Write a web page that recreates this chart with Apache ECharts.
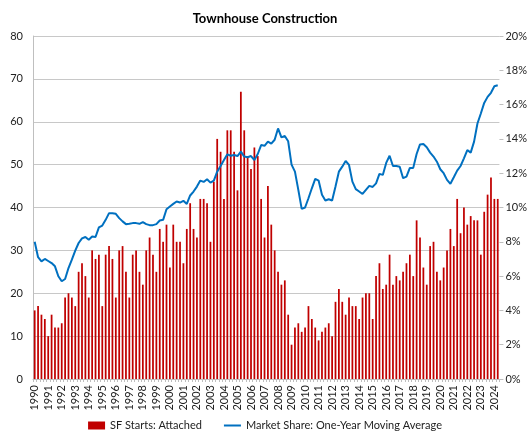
<!DOCTYPE html>
<html>
<head>
<meta charset="utf-8">
<script src="https://cdn.jsdelivr.net/npm/echarts@6/dist/echarts.min.js"></script>
<style>
html,body{margin:0;padding:0;background:#fff;}
#chart{width:530px;height:442px;}
</style>
</head>
<body>
<div id="chart"></div>
<script>
// Years shown on the axis (one label per year, first quarter)
var years = ['1990','1991','1992','1993','1994','1995','1996','1997','1998','1999','2000','2001','2002','2003','2004','2005','2006','2007','2008','2009','2010','2011','2012','2013','2014','2015','2016','2017','2018','2019','2020','2021','2022','2023','2024'];
var quarters = ['Q1','Q2','Q3','Q4'];

// SF Starts: Attached (thousands, quarterly)
var sfStartsAttached = [
  16,17,15,14,10,15,12,12,13,19,20,19,17,25,27,24,19,30,28,29,17,29,31,28,19,30,31,25,19,29,30,25,22,30,33,29,25,
  35,32,36,26,36,32,32,27,35,41,35,33,42,42,41,32,46,56,53,42,58,58,53,44,67,58,52,49,54,52,42,33,45,36,30,25,
  22,23,15,8,12,13,11,12,17,14,12,9,11,12,13,10,18,21,18,15,19,17,17,14,19,20,20,14,24,27,21,22,29,22,24,
  23,25,27,29,24,37,33,26,22,31,32,25,23,26,30,35,31,42,34,40,36,38,37,37,29,39,43,47,42,42
];

// Market Share: One-Year Moving Average (%)
var marketShare = [
  8.0,7.1,6.86,7.0,6.88,6.76,6.57,5.99,5.7,5.83,6.47,6.96,7.48,7.93,8.2,8.28,8.12,8.31,8.28,8.84,8.95,9.28,9.67,9.67,9.63,9.38,9.19,9.03,9.05,9.09,9.09,9.05,9.15,9.03,8.97,8.97,9.03,
  9.24,9.28,9.9,10.06,10.21,10.35,10.29,10.39,10.21,10.7,10.93,11.22,11.57,11.49,11.65,11.45,11.57,12.09,12.42,12.77,13.1,13.02,13.06,
  13.0,13.26,12.97,12.93,13.0,12.77,13.12,13.64,13.6,13.84,13.72,13.95,14.61,14.09,14.17,13.86,12.5,12.09,11.03,9.92,
  10.0,10.54,11.12,11.67,11.57,10.74,10.41,10.48,10.41,11.22,12.09,12.38,12.71,12.48,11.51,11.07,10.93,10.79,11.03,11.26,11.2,11.41,11.96,11.9,12.6,13.02,12.42,12.42,
  12.38,11.71,11.8,12.31,12.31,13.12,13.68,13.7,13.51,13.2,12.97,12.67,12.23,12.0,11.61,11.38,11.76,12.15,12.42,12.87,13.35,13.2,13.84,14.9,15.48,16.1,16.45,16.69,17.07,17.13
];

var categories = [];
years.forEach(function(y){ quarters.forEach(function(q){ categories.push(y + ' ' + q); }); });
categories = categories.slice(0, sfStartsAttached.length);

var FONT = 'Lato';
var chart = echarts.init(document.getElementById('chart'));
chart.setOption({
  animation: false,
  backgroundColor: '#ffffff',
  title: {
    text: 'Townhouse Construction',
    left: 'center', top: 7,
    textStyle: {fontFamily: FONT, fontSize: 13, fontWeight: 'bold', color: '#000'}
  },
  legend: {
    bottom: 6, left: 'center', itemGap: 22,
    itemWidth: 17, itemHeight: 8,
    symbolKeepAspect: true,
    textStyle: {fontFamily: FONT, fontSize: 11, color: '#222'},
    data: [
      {name: 'SF Starts: Attached', icon: 'rect'},
      {name: 'Market Share: One-Year Moving Average', icon: 'path://M0,0 L17,0 L17,2 L0,2 Z'}
    ]
  },
  grid: {left: 33, right: 29, top: 36, bottom: 63, containLabel: false},
  xAxis: {
    type: 'category',
    data: categories,
    boundaryGap: true,
    axisLine: {lineStyle: {color: '#bfbfbf', width: 1}},
    axisTick: {show: true, interval: 0, length: 3, lineStyle: {color: '#bfbfbf'}},
    axisLabel: {
      interval: 3, rotate: 90, margin: 6,
      fontFamily: FONT, fontSize: 11, color: '#222',
      formatter: function(v){ return v.split(' ')[0]; }
    },
    splitLine: {show: false}
  },
  yAxis: [
    {
      type: 'value', min: 0, max: 80, interval: 10,
      axisLine: {show: true, lineStyle: {color: '#bfbfbf'}},
      axisTick: {show: false},
      axisLabel: {fontFamily: FONT, fontSize: 11, color: '#222', margin: 10},
      splitLine: {show: true, lineStyle: {color: '#c8c8c8', width: 1}}
    },
    {
      type: 'value', min: 0, max: 20, interval: 2,
      axisLine: {show: false},
      axisTick: {show: true, length: 4, lineStyle: {color: '#bfbfbf'}},
      axisLabel: {fontFamily: FONT, fontSize: 11, color: '#222', margin: 6, formatter: '{value}%'},
      splitLine: {show: false}
    }
  ],
  series: [
    {
      name: 'SF Starts: Attached',
      type: 'bar',
      yAxisIndex: 0,
      data: sfStartsAttached,
      barWidth: '52%',
      itemStyle: {color: '#C00000'}
    },
    {
      name: 'Market Share: One-Year Moving Average',
      type: 'line',
      yAxisIndex: 1,
      data: marketShare,
      symbol: 'none',
      smooth: false,
      lineStyle: {color: '#0070C0', width: 2},
      itemStyle: {color: '#0070C0'}
    }
  ]
});
</script>
</body>
</html>
